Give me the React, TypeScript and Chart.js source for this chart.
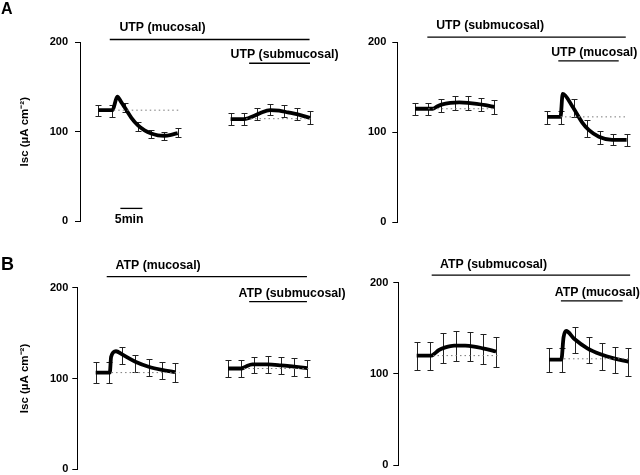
import React, { useEffect, useRef } from 'react';
import { Chart, registerables } from 'chart.js';

Chart.register(...registerables);

const FONT = "Arial, 'Liberation Sans', Helvetica, sans-serif";

// ---------- shared ----------
const SAMPLE_T1 = [0, 3, 6, 9, 12, 15, 18];
const SAMPLE_T2 = [30, 33, 36, 39, 42, 45, 48];
const Y_TICKS = [0, 100, 200];
const Y_TITLE = 'Isc (µA cm⁻²)';
const SCALE_BAR_LABEL = '5min';
const SCALE_BAR_MIN = 5;

// ---------- A left: UTP (mucosal) then UTP (submucosal) ----------
const aL_labels = ['UTP (mucosal)', 'UTP (submucosal)'];
const aL_treatStart = [2.6, 34.2];
const aL_treatEnd = [47.9, 48];
const aL_traceT1 = [0, 3.2, 4.3, 5.2, 6, 7.5, 9, 10.5, 12, 13.5, 15, 16.5, 18];
const aL_traceV1 = [124, 124, 139, 133, 127, 115.5, 107, 101.5, 98, 96, 95.5, 96.5, 98.5];
const aL_traceT2 = [30, 33, 34, 35.5, 37, 39, 41, 43, 45, 48];
const aL_traceV2 = [114, 114, 115, 118, 121.5, 124, 123.5, 121.5, 119.5, 115.5];
const aL_mean1 = [123.7, 123.4, 127, 106, 97.2, 95.7, 98.6];
const aL_sem1 = [6.6, 6.9, 5.5, 5, 4.6, 4.5, 5];
const aL_mean2 = [114, 114, 120, 124.7, 122.9, 119.7, 115.7];
const aL_sem2 = [6.8, 6.8, 6.6, 6.4, 6.4, 7, 7.3];
const aL_baseline = [124, 114.5];
const aL_baseT1 = [3.5, 18.8];
const aL_baseT2 = [33.5, 48.8];

// ---------- A right: UTP (submucosal) then UTP (mucosal) ----------
const aR_labels = ['UTP (submucosal)', 'UTP (mucosal)'];
const aR_treatStart = [2.8, 32.5];
const aR_treatEnd = [47.8, 46.2];
const aR_traceT1 = [0, 4, 5, 6, 8, 10, 12, 14, 16, 18];
const aR_traceV1 = [126, 126, 128.5, 130.5, 132.5, 133, 132.5, 131.5, 130, 128];
const aR_traceT2 = [30, 33, 33.5, 35.7, 37.9, 39.4, 41.7, 44.7, 48];
const aR_traceV2 = [117, 117, 142.5, 128.5, 111, 102.5, 95, 91.5, 91.5];
const aR_mean1 = [126, 125.5, 129.8, 132.4, 132, 130.5, 128.1];
const aR_sem1 = [6.8, 6.8, 7.4, 7.3, 7.7, 7.4, 7.9];
const aR_mean2 = [116.7, 116.5, 126.5, 104, 94.1, 91.9, 91.5];
const aR_sem2 = [7.2, 7.2, 10, 9.2, 7, 6.2, 6.5];
const aR_baseline = [126, 117];
const aR_baseT1 = [3, 18];
const aR_baseT2 = [33, 48];

// ---------- B left: ATP (mucosal) then ATP (submucosal) ----------
const bL_labels = ['ATP (mucosal)', 'ATP (submucosal)'];
const bL_treatStart = [2.5, 34.8];
const bL_treatEnd = [47.9, 47.9];
const bL_traceT1 = [0, 3.2, 3.5, 4.6, 6, 9, 12, 15, 18];
const bL_traceV1 = [106.5, 106.5, 124, 130, 126.5, 118.5, 113, 109.5, 107];
const bL_traceT2 = [30, 33, 34, 35.5, 39, 42, 45, 48];
const bL_traceV2 = [111, 111, 113, 115.5, 115.5, 114.5, 113, 111.5];
const bL_mean1 = [106.6, 106.6, 125.5, 116.3, 111.9, 108.8, 107];
const bL_sem1 = [11.2, 11.2, 9.5, 9.5, 9.2, 9.7, 10.5];
const bL_mean2 = [111, 111, 115.2, 115.4, 114.5, 112.7, 111.2];
const bL_sem2 = [9.2, 9.2, 8.8, 9.7, 9.5, 9.5, 9.2];
const bL_baseline = [106.5, 111];
const bL_baseT1 = [3.6, 19];
const bL_baseT2 = [33.6, 48.6];

// ---------- B right: ATP (submucosal) then ATP (mucosal) ----------
const bR_labels = ['ATP (submucosal)', 'ATP (mucosal)'];
const bR_treatStart = [3.4, 32.7];
const bR_treatEnd = [48.4, 46.7];
const bR_traceT1 = [0, 3.3, 4, 5, 6.5, 8.5, 11, 13, 15, 18];
const bR_traceV1 = [120, 120, 122, 126, 129, 131, 131, 130, 128, 124.5];
const bR_traceT2 = [30, 32.8, 33.3, 33.9, 35.7, 38.7, 41.7, 44.7, 48];
const bR_traceV2 = [115.5, 115.5, 140, 147, 138.5, 128, 121.5, 117, 113.5];
const bR_mean1 = [119.8, 119.8, 128, 130.9, 130.2, 126.9, 124.3];
const bR_sem1 = [15.5, 15.5, 16.5, 16.5, 16.1, 16.5, 16.5];
const bR_mean2 = [115.5, 115.5, 137.1, 126.2, 118.8, 115.2, 113];
const bR_sem2 = [13.2, 13.2, 14.6, 14.6, 14.6, 14.6, 15];
const bR_baseline = [120, 116.5];
const bR_baseT1 = [3.7, 19];
const bR_baseT2 = [33.4, 48];

type PanelData = {
  labels: string[]; treatStart: number[]; treatEnd: number[];
  traceT1: number[]; traceV1: number[]; traceT2: number[]; traceV2: number[];
  mean1: number[]; sem1: number[]; mean2: number[]; sem2: number[];
  baseline: number[]; baseT1: number[]; baseT2: number[];
};

const DATA: Record<string, PanelData> = {
  aL: { labels: aL_labels, treatStart: aL_treatStart, treatEnd: aL_treatEnd, traceT1: aL_traceT1, traceV1: aL_traceV1, traceT2: aL_traceT2, traceV2: aL_traceV2, mean1: aL_mean1, sem1: aL_sem1, mean2: aL_mean2, sem2: aL_sem2, baseline: aL_baseline, baseT1: aL_baseT1, baseT2: aL_baseT2 },
  aR: { labels: aR_labels, treatStart: aR_treatStart, treatEnd: aR_treatEnd, traceT1: aR_traceT1, traceV1: aR_traceV1, traceT2: aR_traceT2, traceV2: aR_traceV2, mean1: aR_mean1, sem1: aR_sem1, mean2: aR_mean2, sem2: aR_sem2, baseline: aR_baseline, baseT1: aR_baseT1, baseT2: aR_baseT2 },
  bL: { labels: bL_labels, treatStart: bL_treatStart, treatEnd: bL_treatEnd, traceT1: bL_traceT1, traceV1: bL_traceV1, traceT2: bL_traceT2, traceV2: bL_traceV2, mean1: bL_mean1, sem1: bL_sem1, mean2: bL_mean2, sem2: bL_sem2, baseline: bL_baseline, baseT1: bL_baseT1, baseT2: bL_baseT2 },
  bR: { labels: bR_labels, treatStart: bR_treatStart, treatEnd: bR_treatEnd, traceT1: bR_traceT1, traceV1: bR_traceV1, traceT2: bR_traceT2, traceV2: bR_traceV2, mean1: bR_mean1, sem1: bR_sem1, mean2: bR_mean2, sem2: bR_sem2, baseline: bR_baseline, baseT1: bR_baseT1, baseT2: bR_baseT2 },
};

// ---------- layout (positions / sizes) ----------
type PanelCfg = {
  key: string; left: number; top: number; width: number; height: number;
  pad: { left: number; top: number; right: number; bottom: number };
  axisW: number; tickPad: number; xMin: number; xMax: number; title: boolean;
  notes: { lineY: number; textT: number; textY: number }[];
  scaleBar?: { t0: number; y: number; textT: number; textY: number };
};

const PANELS: PanelCfg[] = [
  {
    key: 'aL', left: 0, top: 0, width: 360, height: 235,
    pad: { left: 0, top: 42, right: 31, bottom: 11 }, axisW: 80, tickPad: 7,
    xMin: -4.15, xMax: 52.31, title: true,
    notes: [{ lineY: 202.8, textT: 4.8, textY: 216.5 }, { lineY: 176.3, textT: 30.0, textY: 186 }],
    scaleBar: { t0: 5, y: 14.5, textT: 7.0, textY: 2.3 },
  },
  {
    key: 'aR', left: 320, top: 0, width: 320, height: 235,
    pad: { left: 0, top: 42, right: 4, bottom: 11.5 }, axisW: 77.3, tickPad: 6,
    xMin: -4.01, xMax: 50.12, title: false,
    notes: [{ lineY: 205.5, textT: 4.8, textY: 218.5 }, { lineY: 179, textT: 30.9, textY: 188.2 }],
  },
  {
    key: 'bL', left: 0, top: 240, width: 360, height: 245,
    pad: { left: 0, top: 47.7, right: 34, bottom: 15.7 }, axisW: 77.3, tickPad: 4,
    xMin: -4.17, xMax: 52.22, title: true,
    notes: [{ lineY: 212.1, textT: 4.5, textY: 224.7 }, { lineY: 184.6, textT: 32.4, textY: 193.5 }],
  },
  {
    key: 'bR', left: 320, top: 240, width: 320, height: 245,
    pad: { left: 0, top: 42.7, right: 4, bottom: 20 }, axisW: 78.3, tickPad: 5,
    xMin: -4.17, xMax: 49.73, title: false,
    notes: [{ lineY: 208.4, textT: 5.3, textY: 220.2 }, { lineY: 180, textT: 31.3, textY: 189.2 }],
  },
];

function makeNotesPlugin(cfg: PanelCfg, d: PanelData) {
  return {
    id: 'notes_' + cfg.key,
    beforeDatasetsDraw(chart: any) {
      const { ctx } = chart;
      const xs = chart.scales.x, ys = chart.scales.y;
      ctx.save();
      ctx.strokeStyle = '#222';
      ctx.lineWidth = 1;
      chart.data.datasets.forEach((ds: any) => {
        if (!ds.errorBars) return;
        ds.data.forEach((p: any) => {
          const x = Math.round(xs.getPixelForValue(p.x)) + 0.5;
          const yT = Math.round(ys.getPixelForValue(p.y + p.sem)) + 0.5;
          const yB = Math.round(ys.getPixelForValue(p.y - p.sem)) + 0.5;
          ctx.beginPath();
          ctx.moveTo(x, yT); ctx.lineTo(x, yB);
          ctx.moveTo(x - 3, yT); ctx.lineTo(x + 3, yT);
          ctx.moveTo(x - 3, yB); ctx.lineTo(x + 3, yB);
          ctx.stroke();
        });
      });
      ctx.restore();
    },
    afterDraw(chart: any) {
      const { ctx } = chart;
      const xs = chart.scales.x, ys = chart.scales.y;
      ctx.save();
      ctx.fillStyle = '#000';
      ctx.strokeStyle = '#000';
      ctx.lineWidth = 1.3;
      ctx.font = `bold 12.3px ${FONT}`;
      ctx.textBaseline = 'middle';
      ctx.textAlign = 'left';
      cfg.notes.forEach((n, i) => {
        const y = ys.getPixelForValue(n.lineY);
        ctx.beginPath();
        ctx.moveTo(xs.getPixelForValue(d.treatStart[i]), y);
        ctx.lineTo(xs.getPixelForValue(d.treatEnd[i]), y);
        ctx.stroke();
        ctx.fillText(d.labels[i], xs.getPixelForValue(n.textT), ys.getPixelForValue(n.textY));
      });
      if (cfg.scaleBar) {
        const sb = cfg.scaleBar;
        const y = ys.getPixelForValue(sb.y);
        ctx.beginPath();
        ctx.moveTo(xs.getPixelForValue(sb.t0), y);
        ctx.lineTo(xs.getPixelForValue(sb.t0 + SCALE_BAR_MIN), y);
        ctx.stroke();
        ctx.textAlign = 'center';
        ctx.fillText(SCALE_BAR_LABEL, xs.getPixelForValue(sb.textT), ys.getPixelForValue(sb.textY));
      }
      ctx.restore();
    },
  };
}

function Panel({ cfg }: { cfg: PanelCfg }) {
  const ref = useRef<HTMLCanvasElement>(null);
  useEffect(() => {
    const d = DATA[cfg.key];
    const xy = (ts: number[], vs: number[]) => ts.map((t, i) => ({ x: t, y: vs[i] }));
    const samples = (ts: number[], ms: number[], ss: number[]) => ts.map((t, i) => ({ x: t, y: ms[i], sem: ss[i] }));
    const baseDs = (ts: number[], v: number) => ({
      data: xy(ts, [v, v]), borderColor: '#7a7a7a', borderWidth: 1, borderDash: [1.5, 3],
      pointRadius: 0, fill: false,
    });
    const traceDs = (ts: number[], vs: number[]) => ({
      data: xy(ts, vs), borderColor: '#000', borderWidth: 3.8, pointRadius: 0, fill: false,
      cubicInterpolationMode: 'monotone', borderJoinStyle: 'round', borderCapStyle: 'butt',
    });
    const sampleDs = (ts: number[], ms: number[], ss: number[]) => ({
      data: samples(ts, ms, ss), showLine: false, pointRadius: 0, errorBars: true,
    });
    const chart = new Chart(ref.current as HTMLCanvasElement, {
      type: 'line',
      data: {
        datasets: [
          baseDs(d.baseT1, d.baseline[0]),
          baseDs(d.baseT2, d.baseline[1]),
          sampleDs(SAMPLE_T1, d.mean1, d.sem1),
          sampleDs(SAMPLE_T2, d.mean2, d.sem2),
          traceDs(d.traceT1, d.traceV1),
          traceDs(d.traceT2, d.traceV2),
        ] as any,
      },
      options: {
        responsive: false,
        animation: false,
        devicePixelRatio: 1,
        layout: { padding: cfg.pad },
        plugins: { legend: { display: false }, tooltip: { enabled: false } },
        events: [],
        scales: {
          x: { type: 'linear', display: false, min: cfg.xMin, max: cfg.xMax },
          y: {
            type: 'linear', position: 'left', min: 0, max: 200,
            afterBuildTicks: (s: any) => { s.ticks = Y_TICKS.map((v) => ({ value: v })); },
            afterFit: (s: any) => { s.width = cfg.axisW; },
            ticks: { color: '#000', font: { family: FONT, size: 11, weight: 'bold' }, padding: cfg.tickPad },
            grid: { drawOnChartArea: false, drawTicks: true, tickLength: 5, color: '#000', lineWidth: 1 },
            border: { display: true, color: '#000', width: 1 },
            title: {
              display: cfg.title, text: Y_TITLE, color: '#000',
              font: { family: FONT, size: 11.5, weight: 'bold' }, padding: { top: 18, bottom: 0 },
            },
          },
        },
      } as any,
      plugins: [makeNotesPlugin(cfg, d)],
    });
    return () => chart.destroy();
  }, [cfg]);
  return (
    <canvas
      ref={ref}
      width={cfg.width}
      height={cfg.height}
      style={{ position: 'absolute', left: cfg.left, top: cfg.top, width: cfg.width, height: cfg.height }}
    />
  );
}

export default function App() {
  return (
    <div style={{ position: 'absolute', left: 0, top: 0, width: 640, height: 475, overflow: 'hidden', background: '#fff', fontFamily: FONT }}>
      {PANELS.map((p) => <Panel key={p.key} cfg={p} />)}
      <div style={{ position: 'absolute', left: 1, top: 0.5, fontSize: 16, fontWeight: 'bold', lineHeight: '16px', color: '#000' }}>A</div>
      <div style={{ position: 'absolute', left: 1, top: 254.8, fontSize: 18, fontWeight: 'bold', lineHeight: '18px', color: '#000' }}>B</div>
    </div>
  );
}
